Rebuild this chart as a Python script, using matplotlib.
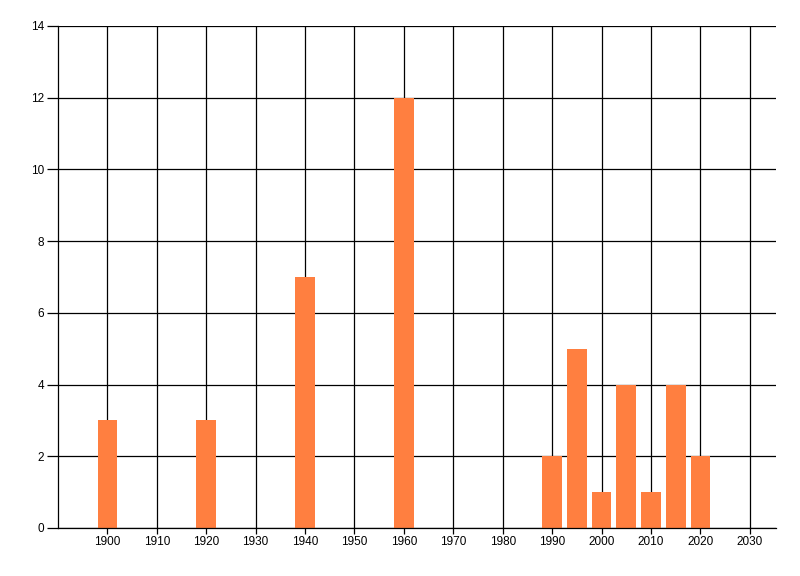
import matplotlib
matplotlib.use("Agg")
import matplotlib.pyplot as plt

# Data
years = [1900, 1920, 1940, 1960, 1990, 1995, 2000, 2005, 2010, 2015, 2020]
counts = [3, 3, 7, 12, 2, 5, 1, 4, 1, 4, 2]
x_ticks = list(range(1900, 2031, 10))
y_ticks = list(range(0, 15, 2))

plt.rcParams["font.family"] = ["Liberation Sans", "DejaVu Sans"]

fig = plt.figure(figsize=(8, 5.76), dpi=100)
W, H = 800, 576
ax = fig.add_axes([58 / W, (H - 528) / H, (776 - 58) / W, (528 - 26) / H])

ax.bar(years, counts, width=4, color="#FF7F40", zorder=3)

ax.set_xlim(1890, 2035.3)
ax.set_ylim(0, 14)
ax.set_xticks(x_ticks)
ax.set_yticks(y_ticks)

ax.grid(True, color="black", linewidth=0.9, zorder=0)
for side in ["top", "right"]:
    ax.spines[side].set_visible(False)
for side in ["left", "bottom"]:
    ax.spines[side].set_linewidth(0.9)
    ax.spines[side].set_zorder(4)

ax.tick_params(axis="y", length=8, width=0.9, pad=2, labelsize=8.5)
ax.tick_params(axis="x", length=4, width=0.9, pad=2, labelsize=8.5)

fig.savefig("out.png", dpi=100)
